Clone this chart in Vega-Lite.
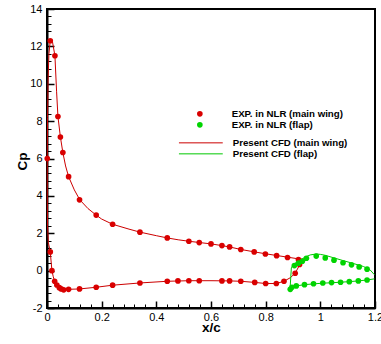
{
  "$schema": "https://vega.github.io/schema/vega-lite/v6.json",
  "width": 328,
  "height": 299,
  "autosize": {"type": "none"},
  "padding": {"left": 47, "top": 9, "right": 6, "bottom": 36},
  "background": "white",
  "config": {
    "view": {"stroke": "black", "strokeWidth": 2},
    "font": "Liberation Sans",
    "axis": {
      "grid": false,
      "labelFont": "Liberation Sans",
      "labelFontSize": 11,
      "labelColor": "black",
      "domainColor": "black",
      "tickColor": "black",
      "titleFont": "Liberation Sans",
      "titleFontSize": 13.5,
      "titleFontWeight": "bold",
      "titleColor": "black"
    },
    "legend": {
      "labelFont": "Liberation Sans",
      "labelFontSize": 9.7,
      "labelFontWeight": "bold",
      "labelColor": "black",
      "padding": 0,
      "rowPadding": 0
    }
  },
  "datasets": {
    "main_cfd": [
      {"i": 0, "x": 0.942, "cp": 0.61}, {"i": 1, "x": 0.92, "cp": 0.63}, {"i": 2, "x": 0.88, "cp": 0.72},
      {"i": 3, "x": 0.84, "cp": 0.81}, {"i": 4, "x": 0.8, "cp": 0.9}, {"i": 5, "x": 0.76, "cp": 1.0},
      {"i": 6, "x": 0.71, "cp": 1.13}, {"i": 7, "x": 0.67, "cp": 1.26}, {"i": 8, "x": 0.64, "cp": 1.34},
      {"i": 9, "x": 0.6, "cp": 1.43}, {"i": 10, "x": 0.56, "cp": 1.5}, {"i": 11, "x": 0.52, "cp": 1.57},
      {"i": 12, "x": 0.48, "cp": 1.65}, {"i": 13, "x": 0.44, "cp": 1.75}, {"i": 14, "x": 0.4, "cp": 1.87},
      {"i": 15, "x": 0.34, "cp": 2.06}, {"i": 16, "x": 0.3, "cp": 2.22}, {"i": 17, "x": 0.24, "cp": 2.48},
      {"i": 18, "x": 0.2, "cp": 2.76}, {"i": 19, "x": 0.18, "cp": 2.97}, {"i": 20, "x": 0.15, "cp": 3.32},
      {"i": 21, "x": 0.12, "cp": 3.79}, {"i": 22, "x": 0.1, "cp": 4.32}, {"i": 23, "x": 0.079, "cp": 5.03},
      {"i": 24, "x": 0.068, "cp": 5.6}, {"i": 25, "x": 0.058, "cp": 6.32}, {"i": 26, "x": 0.049, "cp": 7.15},
      {"i": 27, "x": 0.04, "cp": 8.25}, {"i": 28, "x": 0.035, "cp": 9.6}, {"i": 29, "x": 0.029, "cp": 11.5},
      {"i": 30, "x": 0.02, "cp": 12.25}, {"i": 31, "x": 0.012, "cp": 12.3}, {"i": 32, "x": 0.007, "cp": 11.6},
      {"i": 33, "x": 0.004, "cp": 10.2}, {"i": 34, "x": 0.002, "cp": 8.2}, {"i": 35, "x": 0.001, "cp": 6.0},
      {"i": 36, "x": 0.001, "cp": 4.0}, {"i": 37, "x": 0.002, "cp": 2.4}, {"i": 38, "x": 0.005, "cp": 1.5},
      {"i": 39, "x": 0.012, "cp": 1.0}, {"i": 40, "x": 0.018, "cp": 0.0}, {"i": 41, "x": 0.023, "cp": -0.33},
      {"i": 42, "x": 0.028, "cp": -0.57}, {"i": 43, "x": 0.036, "cp": -0.77}, {"i": 44, "x": 0.045, "cp": -0.91},
      {"i": 45, "x": 0.052, "cp": -0.98}, {"i": 46, "x": 0.061, "cp": -1.02}, {"i": 47, "x": 0.079, "cp": -1.0},
      {"i": 48, "x": 0.119, "cp": -0.98}, {"i": 49, "x": 0.18, "cp": -0.89}, {"i": 50, "x": 0.24, "cp": -0.78},
      {"i": 51, "x": 0.34, "cp": -0.66}, {"i": 52, "x": 0.44, "cp": -0.57}, {"i": 53, "x": 0.52, "cp": -0.54},
      {"i": 54, "x": 0.6, "cp": -0.54}, {"i": 55, "x": 0.668, "cp": -0.55}, {"i": 56, "x": 0.709, "cp": -0.57},
      {"i": 57, "x": 0.76, "cp": -0.63}, {"i": 58, "x": 0.8, "cp": -0.69}, {"i": 59, "x": 0.839, "cp": -0.69},
      {"i": 60, "x": 0.867, "cp": -0.57}, {"i": 61, "x": 0.89, "cp": -0.38}, {"i": 62, "x": 0.908, "cp": -0.14},
      {"i": 63, "x": 0.924, "cp": 0.3}, {"i": 64, "x": 0.942, "cp": 0.61}
    ],
    "flap_cfd": [
      {"i": 0, "x": 1.198, "cp": -0.22}, {"i": 1, "x": 1.182, "cp": 0.04}, {"i": 2, "x": 1.171, "cp": 0.12},
      {"i": 3, "x": 1.158, "cp": 0.22}, {"i": 4, "x": 1.142, "cp": 0.29}, {"i": 5, "x": 1.121, "cp": 0.38},
      {"i": 6, "x": 1.085, "cp": 0.53}, {"i": 7, "x": 1.05, "cp": 0.68}, {"i": 8, "x": 1.018, "cp": 0.82},
      {"i": 9, "x": 1.0, "cp": 0.87}, {"i": 10, "x": 0.985, "cp": 0.89}, {"i": 11, "x": 0.963, "cp": 0.84},
      {"i": 12, "x": 0.944, "cp": 0.72}, {"i": 13, "x": 0.926, "cp": 0.55}, {"i": 14, "x": 0.91, "cp": 0.42},
      {"i": 15, "x": 0.9, "cp": 0.3}, {"i": 16, "x": 0.894, "cp": 0.15}, {"i": 17, "x": 0.892, "cp": -0.3},
      {"i": 18, "x": 0.89, "cp": -0.8}, {"i": 19, "x": 0.891, "cp": -1.0}, {"i": 20, "x": 0.896, "cp": -0.93},
      {"i": 21, "x": 0.905, "cp": -0.86}, {"i": 22, "x": 0.92, "cp": -0.8}, {"i": 23, "x": 0.942, "cp": -0.75},
      {"i": 24, "x": 0.975, "cp": -0.71}, {"i": 25, "x": 1.009, "cp": -0.67}, {"i": 26, "x": 1.041, "cp": -0.65},
      {"i": 27, "x": 1.074, "cp": -0.62}, {"i": 28, "x": 1.106, "cp": -0.59}, {"i": 29, "x": 1.139, "cp": -0.55},
      {"i": 30, "x": 1.171, "cp": -0.5}, {"i": 31, "x": 1.198, "cp": -0.44}
    ],
    "main_exp": [
      {"x": 0.001, "cp": 6.0}, {"x": 0.012, "cp": 12.3}, {"x": 0.029, "cp": 11.5}, {"x": 0.04, "cp": 8.25},
      {"x": 0.049, "cp": 7.15}, {"x": 0.058, "cp": 6.32}, {"x": 0.079, "cp": 5.03}, {"x": 0.119, "cp": 3.79},
      {"x": 0.18, "cp": 2.97}, {"x": 0.24, "cp": 2.48}, {"x": 0.34, "cp": 2.06}, {"x": 0.44, "cp": 1.75},
      {"x": 0.519, "cp": 1.57}, {"x": 0.557, "cp": 1.5}, {"x": 0.6, "cp": 1.43}, {"x": 0.64, "cp": 1.34},
      {"x": 0.668, "cp": 1.27}, {"x": 0.709, "cp": 1.13}, {"x": 0.758, "cp": 1.0}, {"x": 0.799, "cp": 0.89},
      {"x": 0.84, "cp": 0.8}, {"x": 0.88, "cp": 0.7}, {"x": 0.92, "cp": 0.59},
      {"x": 0.012, "cp": 1.0}, {"x": 0.018, "cp": 0.0}, {"x": 0.028, "cp": -0.57}, {"x": 0.036, "cp": -0.77},
      {"x": 0.045, "cp": -0.91}, {"x": 0.052, "cp": -0.98}, {"x": 0.061, "cp": -1.03}, {"x": 0.079, "cp": -1.0},
      {"x": 0.119, "cp": -0.98}, {"x": 0.18, "cp": -0.89}, {"x": 0.24, "cp": -0.78}, {"x": 0.34, "cp": -0.66},
      {"x": 0.44, "cp": -0.57}, {"x": 0.479, "cp": -0.55}, {"x": 0.519, "cp": -0.54}, {"x": 0.557, "cp": -0.54},
      {"x": 0.64, "cp": -0.55}, {"x": 0.668, "cp": -0.55}, {"x": 0.709, "cp": -0.57}, {"x": 0.76, "cp": -0.63},
      {"x": 0.8, "cp": -0.69}, {"x": 0.839, "cp": -0.69}, {"x": 0.867, "cp": -0.57}, {"x": 0.908, "cp": -0.14},
      {"x": 0.924, "cp": 0.33}
    ],
    "flap_exp": [
      {"x": 0.905, "cp": 0.27}, {"x": 0.92, "cp": 0.4}, {"x": 0.934, "cp": 0.5}, {"x": 0.949, "cp": 0.66},
      {"x": 0.985, "cp": 0.78}, {"x": 1.018, "cp": 0.68}, {"x": 1.05, "cp": 0.56}, {"x": 1.083, "cp": 0.42},
      {"x": 1.114, "cp": 0.31}, {"x": 1.142, "cp": 0.2}, {"x": 1.171, "cp": 0.08},
      {"x": 0.89, "cp": -1.0}, {"x": 0.896, "cp": -0.89}, {"x": 0.912, "cp": -0.82}, {"x": 0.942, "cp": -0.75},
      {"x": 0.975, "cp": -0.7}, {"x": 1.009, "cp": -0.66}, {"x": 1.041, "cp": -0.64}, {"x": 1.074, "cp": -0.62},
      {"x": 1.106, "cp": -0.59}, {"x": 1.139, "cp": -0.55}, {"x": 1.171, "cp": -0.5}
    ]
  },
  "layer": [
    {
      "data": {"name": "main_cfd"},
      "mark": {"type": "line", "strokeWidth": 1},
      "encoding": {
        "x": {
          "field": "x", "type": "quantitative",
          "scale": {"domain": [0, 1.2], "nice": false, "zero": false},
          "axis": {
            "orient": "bottom", "values": [0, 0.2, 0.4, 0.6, 0.8, 1, 1.2],
            "labelExpr": "'' + datum.value", "ticks": false, "labelPadding": 3,
            "labelFlush": false, "labelOverlap": false, "domainWidth": 2,
            "title": "x/c", "titleBaseline": "alphabetic", "titleY": 23
          }
        },
        "y": {
          "field": "cp", "type": "quantitative",
          "scale": {"domain": [-2, 14], "nice": false, "zero": false},
          "axis": {
            "orient": "left", "values": [-2, 0, 2, 4, 6, 8, 10, 12, 14],
            "labelExpr": "'' + datum.value", "ticks": false, "labelPadding": 5,
            "labelFlush": false, "labelOverlap": false, "domainWidth": 2,
            "title": "Cp", "titleAngle": -90, "titleX": -21, "titleY": 152,
            "titleAlign": "center", "titleBaseline": "alphabetic"
          }
        },
        "stroke": {
          "datum": "Present CFD (main wing)",
          "scale": {"domain": ["Present CFD (main wing)", "Present CFD (flap)"], "range": ["#cc0000", "#00c800"]},
          "legend": {
            "orient": "none", "legendX": 149, "legendY": 129, "title": null,
            "symbolType": "M-7.3,0H7.3", "symbolSize": 36, "symbolStrokeWidth": 1, "labelOffset": 27
          }
        },
        "order": {"field": "i"}
      }
    },
    {
      "data": {"name": "flap_cfd"},
      "mark": {"type": "line", "strokeWidth": 1},
      "encoding": {
        "x": {
          "field": "x", "type": "quantitative",
          "axis": {
            "orient": "bottom", "values": [0, 0.2, 0.4, 0.6, 0.8, 1, 1.2],
            "labels": false, "domain": false, "tickSize": -7, "tickWidth": 1.5, "title": null
          }
        },
        "y": {
          "field": "cp", "type": "quantitative",
          "axis": {
            "orient": "left", "values": [-2, 0, 2, 4, 6, 8, 10, 12, 14],
            "labels": false, "domain": false, "tickSize": -7, "tickWidth": 1.5, "title": null
          }
        },
        "stroke": {"datum": "Present CFD (flap)"},
        "order": {"field": "i"}
      }
    },
    {
      "data": {"name": "main_exp"},
      "mark": {"type": "point", "filled": true, "size": 32, "opacity": 1, "strokeWidth": 0},
      "encoding": {
        "x": {
          "field": "x", "type": "quantitative",
          "axis": {
            "orient": "bottom",
            "values": [0.04, 0.08, 0.12, 0.16, 0.24, 0.28, 0.32, 0.36, 0.44, 0.48, 0.52, 0.56, 0.64, 0.68, 0.72, 0.76, 0.84, 0.88, 0.92, 0.96, 1.04, 1.08, 1.12, 1.16],
            "labels": false, "domain": false, "tickSize": -4, "tickWidth": 1, "title": null
          }
        },
        "y": {
          "field": "cp", "type": "quantitative",
          "axis": {
            "orient": "left",
            "values": [-1.6, -1.2, -0.8, -0.4, 0.4, 0.8, 1.2, 1.6, 2.4, 2.8, 3.2, 3.6, 4.4, 4.8, 5.2, 5.6, 6.4, 6.8, 7.2, 7.6, 8.4, 8.8, 9.2, 9.6, 10.4, 10.8, 11.2, 11.6, 12.4, 12.8, 13.2, 13.6],
            "labels": false, "domain": false, "tickSize": -4, "tickWidth": 1, "title": null
          }
        },
        "color": {
          "datum": "EXP. in NLR (main wing)",
          "scale": {"domain": ["EXP. in NLR (main wing)", "EXP. in NLR (flap)"], "range": ["#d90000", "#00d400"]},
          "legend": {
            "orient": "none", "legendX": 148, "legendY": 100, "title": null,
            "symbolType": "circle", "symbolSize": 32, "symbolStrokeWidth": 0, "labelOffset": 27
          }
        }
      }
    },
    {
      "data": {"name": "flap_exp"},
      "mark": {"type": "point", "filled": true, "size": 32, "opacity": 1, "strokeWidth": 0},
      "encoding": {
        "x": {"field": "x", "type": "quantitative", "axis": null},
        "y": {"field": "cp", "type": "quantitative", "axis": null},
        "color": {"datum": "EXP. in NLR (flap)"}
      }
    }
  ],
  "resolve": {"axis": {"x": "independent", "y": "independent"}}
}
